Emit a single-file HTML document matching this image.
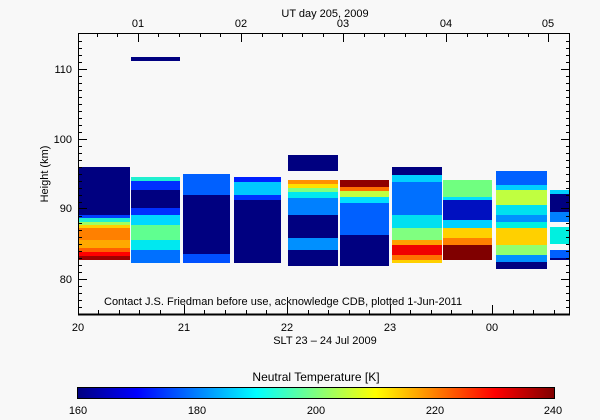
<!DOCTYPE html><html><head><style>body{margin:0;background:#f8f8f8}svg{display:block}text{font-family:"Liberation Sans",sans-serif;font-size:11px;fill:#000}</style></head><body>
<svg width="600" height="420" xmlns="http://www.w3.org/2000/svg">
<defs>
<linearGradient id="jet" x1="0" x2="1" y1="0" y2="0">
<stop offset="0" stop-color="#000080"/><stop offset="0.125" stop-color="#0000ff"/><stop offset="0.375" stop-color="#00ffff"/><stop offset="0.625" stop-color="#ffff00"/><stop offset="0.875" stop-color="#ff0000"/><stop offset="1" stop-color="#800000"/>
</linearGradient>
</defs>
<rect width="600" height="420" fill="#f8f8f8"/>
<g shape-rendering="crispEdges">
<!-- col1 -->
<rect x="78" y="167" width="52" height="48" fill="#000080"/>
<rect x="78" y="215" width="52" height="3" fill="#0040ff"/>
<rect x="78" y="218" width="52" height="4" fill="#20f0d0"/>
<rect x="78" y="222" width="52" height="3" fill="#a0ff60"/>
<rect x="78" y="225" width="52" height="3" fill="#ffd000"/>
<rect x="78" y="228" width="52" height="12" fill="#ff8000"/>
<rect x="78" y="240" width="52" height="8" fill="#ffa800"/>
<rect x="78" y="248" width="52" height="4" fill="#ff6000"/>
<rect x="78" y="252" width="52" height="4" fill="#ff0000"/>
<rect x="78" y="256" width="52" height="4" fill="#a00000"/>
<!-- col2 -->
<rect x="131" y="177" width="49" height="4" fill="#20f0d0"/>
<rect x="131" y="181" width="49" height="9" fill="#0030ff"/>
<rect x="131" y="190" width="49" height="18" fill="#000080"/>
<rect x="131" y="208" width="49" height="7" fill="#0030ff"/>
<rect x="131" y="215" width="49" height="10" fill="#00d8ff"/>
<rect x="131" y="225" width="49" height="15" fill="#60ff90"/>
<rect x="131" y="240" width="49" height="10" fill="#00e8f0"/>
<rect x="131" y="250" width="49" height="13" fill="#0070ff"/>
<!-- col3 -->
<rect x="183" y="174" width="47" height="21" fill="#0060ff"/>
<rect x="183" y="195" width="47" height="59" fill="#000080"/>
<rect x="183" y="254" width="47" height="9" fill="#0050ff"/>
<!-- col4 -->
<rect x="234" y="177" width="47" height="5" fill="#0020ff"/>
<rect x="234" y="182" width="47" height="13" fill="#00c8ff"/>
<rect x="234" y="195" width="47" height="5" fill="#0030ff"/>
<rect x="234" y="200" width="47" height="63" fill="#000080"/>
<!-- col5 -->
<rect x="288" y="155" width="50" height="16" fill="#000080"/>
<rect x="288" y="180" width="50" height="4" fill="#ff9000"/>
<rect x="288" y="184" width="50" height="4" fill="#ffe000"/>
<rect x="288" y="188" width="50" height="4" fill="#80ff80"/>
<rect x="288" y="192" width="50" height="6" fill="#00e8f0"/>
<rect x="288" y="198" width="50" height="17" fill="#0080ff"/>
<rect x="288" y="215" width="50" height="23" fill="#000080"/>
<rect x="288" y="238" width="50" height="12" fill="#0090ff"/>
<rect x="288" y="250" width="50" height="16" fill="#000080"/>
<!-- col6 -->
<rect x="340" y="180" width="49" height="7" fill="#900000"/>
<rect x="340" y="187" width="49" height="4" fill="#ff7000"/>
<rect x="340" y="191" width="49" height="6" fill="#c0ff40"/>
<rect x="340" y="197" width="49" height="6" fill="#00e0ff"/>
<rect x="340" y="203" width="49" height="32" fill="#0060ff"/>
<rect x="340" y="235" width="49" height="31" fill="#000080"/>
<!-- col7 -->
<rect x="392" y="167" width="50" height="8" fill="#000080"/>
<rect x="392" y="175" width="50" height="7" fill="#00d0ff"/>
<rect x="392" y="182" width="50" height="33" fill="#0070ff"/>
<rect x="392" y="215" width="50" height="13" fill="#00e0f0"/>
<rect x="392" y="228" width="50" height="12" fill="#80ff80"/>
<rect x="392" y="240" width="50" height="5" fill="#ffa000"/>
<rect x="392" y="245" width="50" height="10" fill="#f00000"/>
<rect x="392" y="255" width="50" height="5" fill="#ff7000"/>
<rect x="392" y="260" width="50" height="3" fill="#ffd000"/>
<!-- col8 -->
<rect x="443" y="180" width="49" height="17" fill="#70ff80"/>
<rect x="443" y="197" width="49" height="3" fill="#00e0ff"/>
<rect x="443" y="200" width="49" height="20" fill="#0010c0"/>
<rect x="443" y="220" width="49" height="8" fill="#00d0ff"/>
<rect x="443" y="228" width="49" height="10" fill="#ffd000"/>
<rect x="443" y="238" width="49" height="7" fill="#ff8000"/>
<rect x="443" y="245" width="49" height="15" fill="#800000"/>
<!-- col9 -->
<rect x="496" y="171" width="51" height="14" fill="#0060ff"/>
<rect x="496" y="185" width="51" height="5" fill="#00d0ff"/>
<rect x="496" y="190" width="51" height="15" fill="#c0ff40"/>
<rect x="496" y="205" width="51" height="10" fill="#00e0f0"/>
<rect x="496" y="215" width="51" height="7" fill="#0090ff"/>
<rect x="496" y="222" width="51" height="6" fill="#00f0e0"/>
<rect x="496" y="228" width="51" height="17" fill="#ffd000"/>
<rect x="496" y="245" width="51" height="10" fill="#90ff70"/>
<rect x="496" y="255" width="51" height="7" fill="#0090ff"/>
<rect x="496" y="262" width="51" height="7" fill="#000080"/>
<!-- col10 -->
<rect x="550" y="190" width="20" height="4" fill="#00d0ff"/>
<rect x="550" y="194" width="20" height="18" fill="#000080"/>
<rect x="550" y="212" width="20" height="10" fill="#0080ff"/>
<rect x="550" y="227" width="20" height="17" fill="#00f0e0"/>
<rect x="550" y="250" width="20" height="8" fill="#0060ff"/>
<rect x="550" y="258" width="20" height="2" fill="#000080"/>
<!-- top bar -->
<rect x="131" y="57" width="49" height="4" fill="#000080"/>
</g>
<g stroke="#000" stroke-width="1" fill="none" shape-rendering="crispEdges">
<rect x="78.5" y="33.5" width="491" height="281" stroke-width="1"/>
<line x1="78" y1="314.5" x2="570" y2="314.5" stroke-width="2"/>
<path id="yt" d="M78 69.5h9M78 139.5h9M78 208.5h9M78 279.5h9M570 69.5h-9M570 139.5h-9M570 208.5h-9M570 279.5h-9
M78 41.5h4M78 48.5h4M78 55.5h4M78 62.5h4M78 76.5h4M78 83.5h4M78 90.5h4M78 97.5h4M78 104.5h4M78 111.5h4M78 118.5h4M78 125.5h4M78 132.5h4M78 146.5h4M78 153.5h4M78 160.5h4M78 167.5h4M78 174.5h4M78 181.5h4M78 188.5h4M78 195.5h4M78 202.5h4M78 216.5h4M78 223.5h4M78 230.5h4M78 237.5h4M78 244.5h4M78 251.5h4M78 258.5h4M78 265.5h4M78 272.5h4M78 286.5h4M78 293.5h4M78 300.5h4M78 307.5h4
M570 41.5h-4M570 48.5h-4M570 55.5h-4M570 62.5h-4M570 76.5h-4M570 83.5h-4M570 90.5h-4M570 97.5h-4M570 104.5h-4M570 111.5h-4M570 118.5h-4M570 125.5h-4M570 132.5h-4M570 146.5h-4M570 153.5h-4M570 160.5h-4M570 167.5h-4M570 174.5h-4M570 181.5h-4M570 188.5h-4M570 195.5h-4M570 202.5h-4M570 216.5h-4M570 223.5h-4M570 230.5h-4M570 237.5h-4M570 244.5h-4M570 251.5h-4M570 258.5h-4M570 265.5h-4M570 272.5h-4M570 286.5h-4M570 293.5h-4M570 300.5h-4M570 307.5h-4"/>
<path d="M184.5 314v-9M287.5 314v-9M390.5 314v-9M492.5 314v-9
M98.5 314v-4M119.5 314v-4M139.5 314v-4M160.5 314v-4M204.5 314v-4M225.5 314v-4M246.5 314v-4M266.5 314v-4M308.5 314v-4M328.5 314v-4M349.5 314v-4M369.5 314v-4M410.5 314v-4M431.5 314v-4M451.5 314v-4M472.5 314v-4M513.5 314v-4M533.5 314v-4M554.5 314v-4
M138.5 33v9M241.5 33v9M343.5 33v9M446.5 33v9M548.5 33v9
M97.5 33v4M117.5 33v4M158.5 33v4M179.5 33v4M200.5 33v4M220.5 33v4M262.5 33v4M282.5 33v4M302.5 33v4M323.5 33v4M364.5 33v4M384.5 33v4M405.5 33v4M426.5 33v4M467.5 33v4M487.5 33v4M508.5 33v4M528.5 33v4"/>
</g>
<text x="78" y="331" text-anchor="middle">20</text>
<text x="184" y="331" text-anchor="middle">21</text>
<text x="287" y="331" text-anchor="middle">22</text>
<text x="390" y="331" text-anchor="middle">23</text>
<text x="492" y="331" text-anchor="middle">00</text>
<text x="325" y="344" text-anchor="middle">SLT 23 – 24 Jul 2009</text>
<text x="138" y="27" text-anchor="middle">01</text>
<text x="241" y="27" text-anchor="middle">02</text>
<text x="343" y="27" text-anchor="middle">03</text>
<text x="446" y="27" text-anchor="middle">04</text>
<text x="548" y="27" text-anchor="middle">05</text>
<text x="325" y="17" text-anchor="middle">UT day 205, 2009</text>
<text x="72" y="73" text-anchor="end">110</text>
<text x="72" y="143" text-anchor="end">100</text>
<text x="72" y="212" text-anchor="end">90</text>
<text x="72" y="283" text-anchor="end">80</text>
<text transform="translate(48,174) rotate(-90)" text-anchor="middle">Height (km)</text>
<text x="104" y="305">Contact J.S. Friedman before use, acknowledge CDB, plotted 1-Jun-2011</text>
<text x="316" y="381" text-anchor="middle" style="font-size:12px">Neutral Temperature [K]</text>
<rect x="77.5" y="387.5" width="477" height="11" fill="url(#jet)" stroke="#000"/>
<text x="78" y="414" text-anchor="middle">160</text>
<text x="197" y="414" text-anchor="middle">180</text>
<text x="316" y="414" text-anchor="middle">200</text>
<text x="435" y="414" text-anchor="middle">220</text>
<text x="553" y="414" text-anchor="middle">240</text>
</svg>
</body></html>
